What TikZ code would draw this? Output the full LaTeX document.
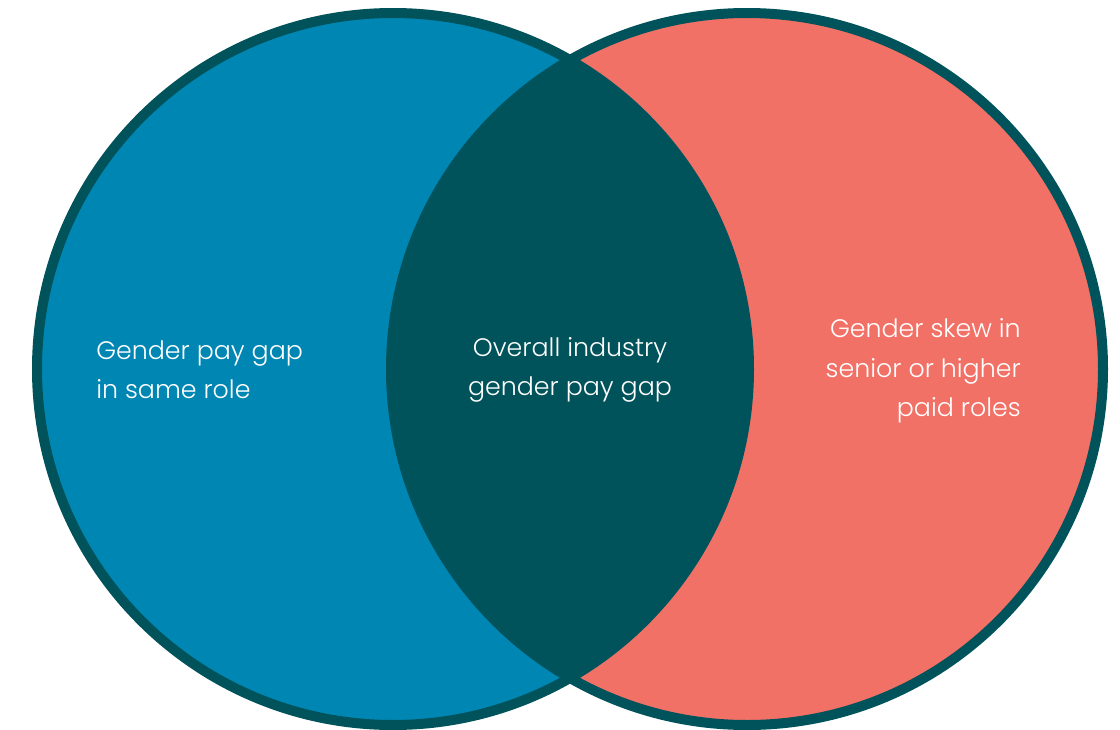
\documentclass[tikz,border=0pt]{standalone}
\usepackage{fontspec}
\setmainfont{Poppins Light}
\usepackage{tikz}
\usetikzlibrary{positioning}
\definecolor{venblue}{HTML}{0086B3}
\definecolor{vensalmon}{HTML}{F27166}
\definecolor{venteal}{HTML}{00535A}

\begin{document}
\begin{tikzpicture}[x = 0.025cm, y = -0.025cm, label/.style = {text = white, font = \fontsize{18}{28}\selectfont, inner sep = 0pt}]
	\useasboundingbox (0,0) rectangle (1120,730);
	\coordinate (cl) at (393,369);
	\coordinate (cr) at (747,369);
	\fill[venblue] (cl) circle (356);
	\fill[vensalmon] (cr) circle (356);
	\begin{scope}
		\clip (cl) circle (356);
		\fill[venteal] (cr) circle (356);
	\end{scope}
	\draw[venteal, line width = 10*0.025cm] (cl) circle (356) (cr) circle (356);
	\node[label, anchor = west, align = left] (same) at (96,370) {Gender pay gap\\in same role};
	\node[label, anchor = center, align = center] (overall) at (570,370) {Overall industry\\gender pay gap};
	\node[label, anchor = east, align = right] (skew) at (1021,371) {Gender skew in\\senior or higher\\paid roles};
\end{tikzpicture}
\end{document}
